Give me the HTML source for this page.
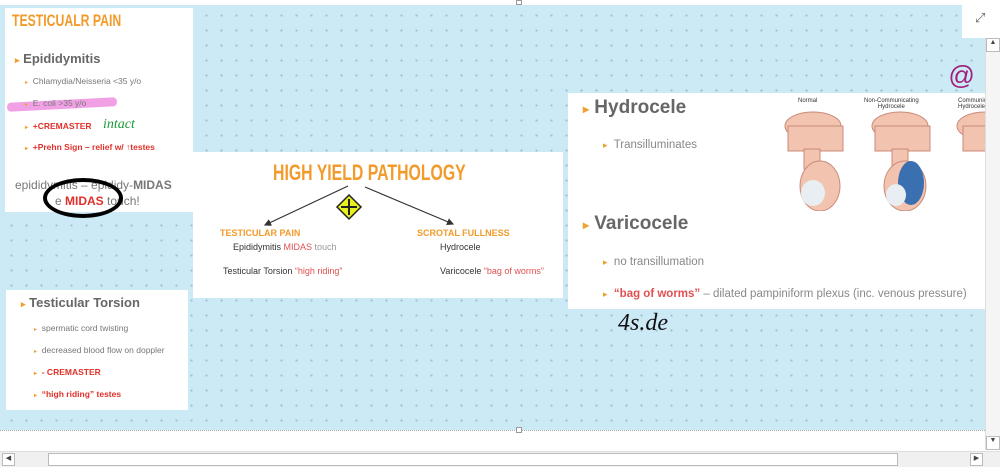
<!DOCTYPE html>
<html><head><meta charset="utf-8"><style>
*{margin:0;padding:0;box-sizing:border-box}
body{width:1000px;height:467px;overflow:hidden;background:#fff;font-family:"Liberation Sans",sans-serif;position:relative}
.abs{position:absolute}
#canvas{left:0;top:5px;width:985px;height:425px;background-color:#cce9f6;background-image:radial-gradient(circle,#9fbfcf 0.9px,transparent 1.3px);background-size:15px 15px;background-position:4px 3px}
.card{background:#fff;position:absolute}
.t{position:absolute;white-space:nowrap}
.b{color:#f0a030;font-size:9px}
.g{color:#777}
.r{color:#e0302a;font-weight:bold}
.or{color:#f29b2b;font-family:"Liberation Sans Narrow","Liberation Sans",sans-serif;font-weight:bold;display:inline-block}
</style></head><body>
<div id="canvas" class="abs"></div>
<div class="abs" style="left:962px;top:0;width:38px;height:38px;background:#fff"></div>
<div class="abs" style="left:975px;top:10px;font-size:13px;color:#666">⤢</div>
<div class="abs" style="left:516px;top:0;width:6px;height:5px;border:1px solid #999;background:#fff"></div>

<!-- Left card -->
<div class="card" style="left:5px;top:8px;width:188px;height:204px">
 <div class="t or" style="left:7px;top:3px;font-size:17px;transform:scaleX(.72);transform-origin:left">TESTICUALR PAIN</div>
 <div class="t" style="left:10px;top:43px;font-size:13px;font-weight:bold;color:#666"><span class="b">▸</span> Epididymitis</div>
 <div class="t g" style="left:20px;top:68px;font-size:8.5px"><span class="b" style="font-size:6px">▸</span>&nbsp; Chlamydia/Neisseria &lt;35 y/o</div>
 <div class="abs" style="left:2px;top:92px;width:110px;height:9px;background:#f2a0e6;transform:rotate(-3deg);border-radius:4px"></div>
 <div class="t g" style="left:20px;top:90px;font-size:8.5px"><span class="b" style="font-size:6px">▸</span>&nbsp; E. coli &gt;35 y/o</div>
 <div class="t r" style="left:20px;top:113px;font-size:8.5px"><span class="b" style="font-size:6px">▸</span>&nbsp; +CREMASTER</div>
 <div class="t" style="left:98px;top:109px;font-size:14px;color:#1a9a3a;font-style:italic;font-family:'Liberation Serif',serif">intact</div>
 <div class="t r" style="left:20px;top:134px;font-size:8.5px"><span class="b" style="font-size:6px">▸</span>&nbsp; +Prehn Sign – relief w/ ↑testes</div>
 <div class="t" style="left:10px;top:170px;font-size:12px;color:#777">epididymitis – epididy-<b>MIDAS</b></div>
 <div class="t" style="left:50px;top:186px;font-size:12px;color:#777">e <b style="color:#e0302a">MIDAS</b> touch!</div>
</div>
<div class="abs" style="left:43px;top:178px;width:80px;height:40px;border:4px solid #000;border-radius:50%"></div>

<!-- Bottom-left card -->
<div class="card" style="left:6px;top:290px;width:182px;height:120px">
 <div class="t" style="left:15px;top:5px;font-size:13px;font-weight:bold;color:#666"><span class="b">▸</span> Testicular Torsion</div>
 <div class="t g" style="left:28px;top:33px;font-size:8.5px"><span class="b" style="font-size:6px">▸</span>&nbsp; spermatic cord twisting</div>
 <div class="t g" style="left:28px;top:55px;font-size:8.5px"><span class="b" style="font-size:6px">▸</span>&nbsp; decreased blood flow on doppler</div>
 <div class="t r" style="left:28px;top:77px;font-size:8.5px"><span class="b" style="font-size:6px">▸</span>&nbsp; - CREMASTER</div>
 <div class="t r" style="left:28px;top:99px;font-size:8.5px"><span class="b" style="font-size:6px">▸</span>&nbsp; “high riding” testes</div>
</div>

<!-- Center card -->
<div class="card" style="left:193px;top:152px;width:370px;height:146px">
 <div class="t or" style="left:80px;top:8px;font-size:22px;transform:scaleX(.72);transform-origin:left">HIGH YIELD PATHOLOGY</div>
 <svg class="abs" style="left:0;top:0" width="370" height="146">
  <defs><marker id="ah" markerWidth="6" markerHeight="6" refX="5" refY="3" orient="auto"><path d="M0,0L6,3L0,6z" fill="#333"/></marker></defs>
  <line x1="155" y1="34" x2="72" y2="73" stroke="#333" stroke-width="1.2" marker-end="url(#ah)"/>
  <line x1="172" y1="35" x2="260" y2="72" stroke="#333" stroke-width="1.2" marker-end="url(#ah)"/>
  <g transform="translate(156,55)"><polygon points="0,-12 12,0 0,12 -12,0" fill="#e8f020" stroke="#222" stroke-width="1.5"/><path d="M0,-8V8M-8,0H8" stroke="#222" stroke-width="2"/></g>
 </svg>
 <div class="t" style="left:27px;top:76px;font-size:9px;font-weight:bold;color:#f29b2b">TESTICULAR PAIN</div>
 <div class="t" style="left:40px;top:90px;font-size:9px;color:#333">Epididymitis <span style="color:#e05050">MIDAS</span> <span style="color:#999">touch</span></div>
 <div class="t" style="left:30px;top:114px;font-size:9px;color:#333">Testicular Torsion <span style="color:#e05050">“high riding”</span></div>
 <div class="t" style="left:224px;top:76px;font-size:9px;font-weight:bold;color:#f29b2b">SCROTAL FULLNESS</div>
 <div class="t" style="left:247px;top:90px;font-size:9px;color:#333">Hydrocele</div>
 <div class="t" style="left:247px;top:114px;font-size:9px;color:#333">Varicocele <span style="color:#e05050">“bag of worms”</span></div>
</div>

<!-- Right card -->
<div class="card" style="left:568px;top:93px;width:417px;height:216px;overflow:hidden">
 <div class="t" style="left:15px;top:4px;font-size:19px;font-weight:bold;color:#666"><span class="b" style="font-size:12px">▸</span> Hydrocele</div>
 <div class="t" style="left:35px;top:46px;font-size:11.5px;color:#888"><span class="b">▸</span>&nbsp; Transilluminates</div>
 <div class="t" style="left:15px;top:120px;font-size:19px;font-weight:bold;color:#666"><span class="b" style="font-size:12px">▸</span> Varicocele</div>
 <div class="t" style="left:35px;top:163px;font-size:11.5px;color:#888"><span class="b">▸</span>&nbsp; no transillumation</div>
 <div class="t" style="left:35px;top:195px;font-size:11.5px;color:#888"><span class="b">▸</span>&nbsp; <b style="color:#e05050">“bag of worms”</b> – dilated pampiniform plexus (inc. venous pressure)</div>
 <div class="t" style="left:230px;top:5px;font-size:6px;color:#333">Normal</div>
 <div class="t" style="left:296px;top:5px;font-size:6px;color:#333;text-align:center">Non-Communicating<br>Hydrocele</div>
 <div class="t" style="left:390px;top:5px;font-size:6px;color:#333">Communicating<br>Hydrocele</div>
 <svg class="abs" style="left:200px;top:18px" width="217" height="100">
  <g fill="#f2c4b0" stroke="#c98a7a">
   <ellipse cx="45" cy="15" rx="28" ry="14"/><rect x="20" y="15" width="55" height="25"/>
   <rect x="36" y="38" width="16" height="20"/>
   <ellipse cx="52" cy="75" rx="20" ry="25"/>
   <ellipse cx="132" cy="15" rx="28" ry="14"/><rect x="107" y="15" width="55" height="25"/>
   <rect x="124" y="38" width="16" height="20"/>
   <ellipse cx="137" cy="75" rx="21" ry="25"/>
   <ellipse cx="217" cy="15" rx="28" ry="14"/><rect x="195" y="15" width="30" height="25"/>
  </g>
  <ellipse cx="45" cy="82" rx="12" ry="13" fill="#e8eef2"/>
  <ellipse cx="143" cy="72" rx="13" ry="22" fill="#3a6fb0"/>
  <ellipse cx="128" cy="84" rx="10" ry="11" fill="#e8eef2"/>
 </svg>
</div>

<div class="t" style="left:618px;top:310px;font-size:24px;font-style:italic;color:#111;font-family:'Liberation Serif',serif">4s.de</div>
<div class="t" style="left:948px;top:60px;font-size:26px;color:#a0207a;font-style:italic">@</div>

<!-- vertical scrollbar -->
<div class="abs" style="left:985px;top:38px;width:15px;height:412px;background:#f5f5f5;border-left:1px solid #ddd">
 <div style="height:14px;border:1px solid #bbb;background:#fff;font-size:7px;text-align:center;color:#444">▲</div>
 <div style="position:absolute;bottom:0;width:14px;height:14px;border:1px solid #bbb;background:#fff;font-size:7px;text-align:center;color:#444">▼</div>
</div>
<div class="abs" style="left:0;top:430px;width:985px;height:1px;border-top:1px dotted #aaa"></div>
<div class="abs" style="left:516px;top:427px;width:6px;height:6px;border:1px solid #999;background:#fff"></div>
<!-- horizontal scrollbar -->
<div class="abs" style="left:0;top:451px;width:1000px;height:16px;background:#f0f0f0;border-top:1px solid #ddd">
 <div style="position:absolute;left:2px;top:1px;width:13px;height:13px;border:1px solid #bbb;background:#fff;font-size:7px;color:#444;text-align:center">◀</div>
 <div style="position:absolute;left:48px;top:1px;width:850px;height:13px;border:1px solid #bbb;background:#fff"></div>
 <div style="position:absolute;left:970px;top:1px;width:13px;height:13px;border:1px solid #bbb;background:#fff;font-size:7px;color:#444;text-align:center">▶</div>
</div>
</body></html>
